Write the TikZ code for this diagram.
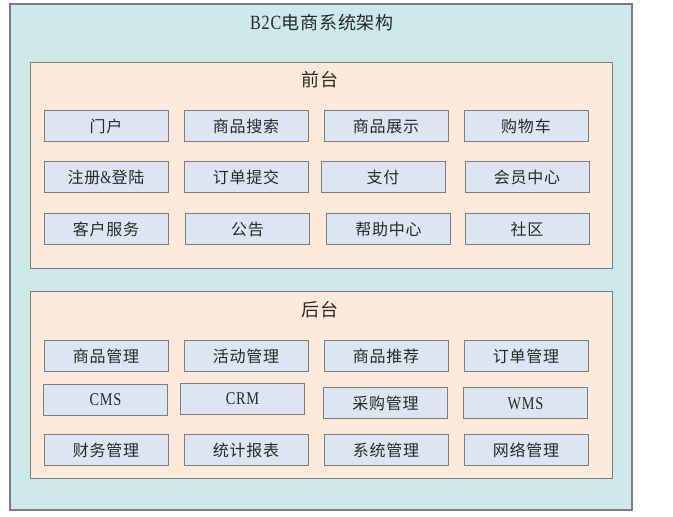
\documentclass[tikz,border=0pt]{standalone}
\usepackage{fontspec}
\newfontfamily\cjk[LetterSpace=5]{Noto Sans CJK SC}
\newfontfamily\latin[Scale=1.12, FakeStretch=0.8, LetterSpace=4]{Liberation Serif}
\usepackage{tikz}
\usetikzlibrary{positioning}
\definecolor{sysbg}{RGB}{205,233,233}
\definecolor{tierbg}{RGB}{253,234,218}
\definecolor{modbg}{RGB}{220,230,242}
\definecolor{edge}{RGB}{125,125,125}
\definecolor{ink}{RGB}{40,40,40}
\tikzstyle{system} = [rectangle, draw=edge, line width=1.2pt, fill=sysbg]
\tikzstyle{tier} = [rectangle, draw=edge, line width=1pt, fill=tierbg]
\tikzstyle{module} = [rectangle, minimum width=124pt, minimum height=31pt, text centered, draw=edge, line width=1pt, fill=modbg, text=ink, font=\cjk\fontsize{16}{18}\selectfont]
\tikzstyle{title} = [text=ink, font=\cjk\fontsize{18}{20}\selectfont]

\begin{document}
\begin{tikzpicture}[x=1pt, y=1pt, node distance=140pt]
        \useasboundingbox (0,0) rectangle (673,517);
        \node (sys) [system, minimum width=622pt, minimum height=506pt] at (321,260) {};
        \node (front) [tier, minimum width=582pt, minimum height=206pt] at (321,351) {};
        \node (back) [tier, minimum width=582pt, minimum height=187pt] at (321,131.5) {};
        \node (systitle) [title] at (322,494) {{\latin B2C}电商系统架构};
        \node (fronttitle) [title] at (320,437) {前台};
        \node (backtitle) [title] at (320,207) {后台};

        \node (portal) [module] at (106,391) {门户};
        \node (search) [module, right of=portal] {商品搜索};
        \node (display) [module, right of=search] {商品展示};
        \node (cart) [module, right of=display] {购物车};
        \node (register) [module] at (106,339.5) {注册{\latin\&}登陆};
        \node (submit) [module, right of=register] {订单提交};
        \node (pay) [module, right of=submit, xshift=-3pt] {支付};
        \node (member) [module, right of=pay, xshift=4pt] {会员中心};
        \node (service) [module] at (106,288) {客户服务};
        \node (notice) [module, right of=service, xshift=1.5pt] {公告};
        \node (help) [module, right of=notice, xshift=1pt] {帮助中心};
        \node (community) [module, right of=help, xshift=-1.5pt] {社区};

        \node (goodsmgr) [module] at (106,161) {商品管理};
        \node (activity) [module, right of=goodsmgr] {活动管理};
        \node (recommend) [module, right of=activity] {商品推荐};
        \node (ordermgr) [module, right of=recommend] {订单管理};
        \node (cms) [module] at (105.5,117) {{\latin CMS}};
        \node (crm) [module, right of=cms, xshift=-3pt, yshift=1pt] {{\latin CRM}};
        \node (purchase) [module, right of=crm, xshift=3pt, yshift=-4.5pt] {采购管理};
        \node (wms) [module, right of=purchase] {{\latin WMS}};
        \node (finance) [module] at (106,66.5) {财务管理};
        \node (report) [module, right of=finance] {统计报表};
        \node (sysmgr) [module, right of=report] {系统管理};
        \node (netmgr) [module, right of=sysmgr] {网络管理};
    \end{tikzpicture}
\end{document}
